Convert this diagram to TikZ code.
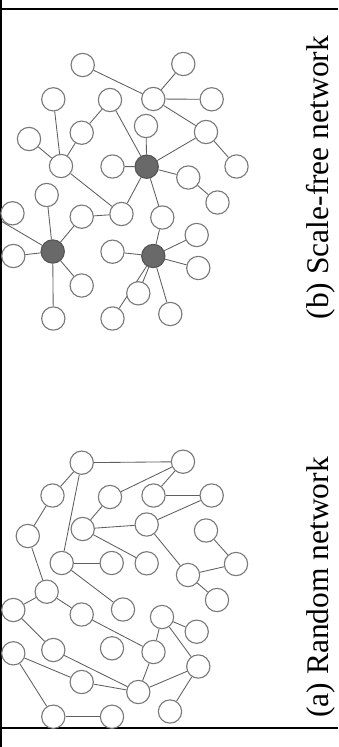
\documentclass[tikz,border=0pt]{standalone}
\usepackage{fontspec}
\setmainfont{Liberation Serif}
\pgfdeclarelayer{bg}
\pgfsetlayers{bg,main}
\definecolor{edgecol}{RGB}{95,95,95}
\definecolor{ringcol}{RGB}{120,120,120}
\definecolor{hubcol}{RGB}{105,105,105}
\tikzset{
  nd/.style={circle,draw=ringcol,line width=1.1pt,fill=white,minimum size=23.3pt,inner sep=0pt},
  hub/.style={nd,fill=hubcol,draw=hubcol!80!black},
  ed/.style={draw=edgecol,line width=0.85pt},
  frame/.style={draw=black,line width=2.3pt},
  captxt/.style={rotate=90,anchor=base west,inner sep=0pt,font=\fontsize{31.5}{36}\selectfont}
}
\begin{document}
\begin{tikzpicture}[x=1pt,y=-1pt]
\useasboundingbox (0,0) rectangle (338,747);
\begin{pgfonlayer}{bg}
\fill[white] (0,0) rectangle (338,747);
\end{pgfonlayer}
% frame
\coordinate (tl) at (0,8.7); \coordinate (tr) at (338,8.7);
\coordinate (bl) at (0,728.3); \coordinate (br) at (338,728.3);
\coordinate (lt) at (1.3,0); \coordinate (lb) at (1.3,747);
\draw[frame] (tl) -- (tr);
\draw[frame] (bl) -- (br);
\draw[frame] (lt) -- (lb);

% ---------- (b) scale-free ----------
\node[nd] (n1) at (82.7,65) {};
\node[nd] (n2) at (183.3,64) {};
\node[nd] (n3) at (53.3,99.3) {};
\node[nd] (n4) at (110,100) {};
\node[nd] (n5) at (153.3,99) {};
\node[nd] (n6) at (211.7,99.3) {};
\node[nd] (n7) at (146,126) {};
\node[nd] (n8) at (81.7,132.7) {};
\node[nd] (n9) at (206,132) {};
\node[nd] (n10) at (29,139) {};
\node[nd] (n11) at (61,166) {};
\node[nd] (n12) at (112.5,166.5) {};
\node[hub] (n13) at (146.7,166.7) {};
\node[nd] (n14) at (188.3,177.5) {};
\node[nd] (n15) at (236.5,166.5) {};
\node[nd] (n16) at (46.7,195) {};
\node[nd] (n17) at (12.5,213.3) {};
\node[nd] (n18) at (81.7,216.7) {};
\node[nd] (n19) at (121.5,214) {};
\node[nd] (n20) at (162.3,217.5) {};
\node[nd] (n21) at (217.5,202.5) {};
\node[nd] (n22) at (196.7,235) {};
\node[hub] (n23) at (52.7,251.5) {};
\node[nd] (n24) at (112.5,251.7) {};
\node[hub] (n25) at (153.3,256) {};
\node[nd] (n26) at (13.3,256) {};
\node[nd] (n27) at (198.3,268) {};
\node[nd] (n28) at (81.7,285.5) {};
\node[nd] (n29) at (138.3,293.3) {};
\node[nd] (n30) at (53.3,318.5) {};
\node[nd] (n31) at (112.5,318.5) {};
\node[nd] (n32) at (170.3,314) {};
\coordinate (n17out) at (0,220.5);

\begin{pgfonlayer}{bg}
\foreach \a/\b in {n1/n5,n2/n5,n5/n6,n5/n9,n3/n11,n4/n8,n8/n11,n4/n13,n7/n13,n12/n13,
  n9/n13,n13/n14,n14/n21,n9/n15,n10/n11,n11/n19,n13/n19,n13/n20,n18/n19,
  n16/n23,n17out/n23,n18/n23,n26/n23,n23/n28,n23/n30,
  n20/n25,n22/n25,n24/n25,n25/n27,n25/n29,n25/n31,n25/n32}
  \draw[ed] (\a) -- (\b);
\end{pgfonlayer}

% ---------- (a) random ----------
\node[nd] (a1) at (81.7,462.7) {};
\node[nd] (a2) at (183,461.7) {};
\node[nd] (a3) at (52.5,495.5) {};
\node[nd] (a4) at (110,497) {};
\node[nd] (a5) at (153.5,495.5) {};
\node[nd] (a6) at (211.7,495.5) {};
\node[nd] (a7) at (146.7,524.5) {};
\node[nd] (a8) at (82.7,529) {};
\node[nd] (a9) at (206,530.5) {};
\node[nd] (a10) at (27.8,536) {};
\node[nd] (a11) at (61.7,563) {};
\node[nd] (a12) at (111.7,563) {};
\node[nd] (a13) at (146.7,563.3) {};
\node[nd] (a14) at (188,575) {};
\node[nd] (a15) at (236,564) {};
\node[nd] (a16) at (46.7,591.7) {};
\node[nd] (a17) at (13.3,610) {};
\node[nd] (a18) at (81.7,614.5) {};
\node[nd] (a19) at (123,609.5) {};
\node[nd] (a20) at (162,617) {};
\node[nd] (a21) at (217,600) {};
\node[nd] (a22) at (196.7,631.7) {};
\node[nd] (a23) at (53.3,650) {};
\node[nd] (a24) at (112,648.3) {};
\node[nd] (a25) at (153.5,652) {};
\node[nd] (a26) at (13.3,653.3) {};
\node[nd] (a27) at (198.3,666.5) {};
\node[nd] (a28) at (81.7,682) {};
\node[nd] (a29) at (138.3,692) {};
\node[nd] (a30) at (53.3,716.7) {};
\node[nd] (a31) at (112,716.7) {};
\node[nd] (a32) at (170,711.5) {};

\begin{pgfonlayer}{bg}
\foreach \a/\b in {a1/a2,a1/a3,a1/a11,a2/a4,a2/a5,a3/a10,a4/a8,a5/a6,a8/a7,a7/a6,
  a8/a13,a7/a14,a9/a15,a14/a15,a14/a21,a10/a16,a11/a12,a11/a19,a16/a17,a16/a18,
  a17/a23,a18/a25,a20/a25,a20/a22,a20/a27,a25/a29,a27/a29,a27/a32,a23/a29,a28/a29,
  a26/a28,a26/a30,a30/a31}
  \draw[ed] (\a) -- (\b);
\end{pgfonlayer}

% captions
\node[captxt] (capb) at (328,319.5) {(b) Scale-free network};
\node[captxt] (capa) at (328,718) {(a) Random network};
\end{tikzpicture}
\end{document}
